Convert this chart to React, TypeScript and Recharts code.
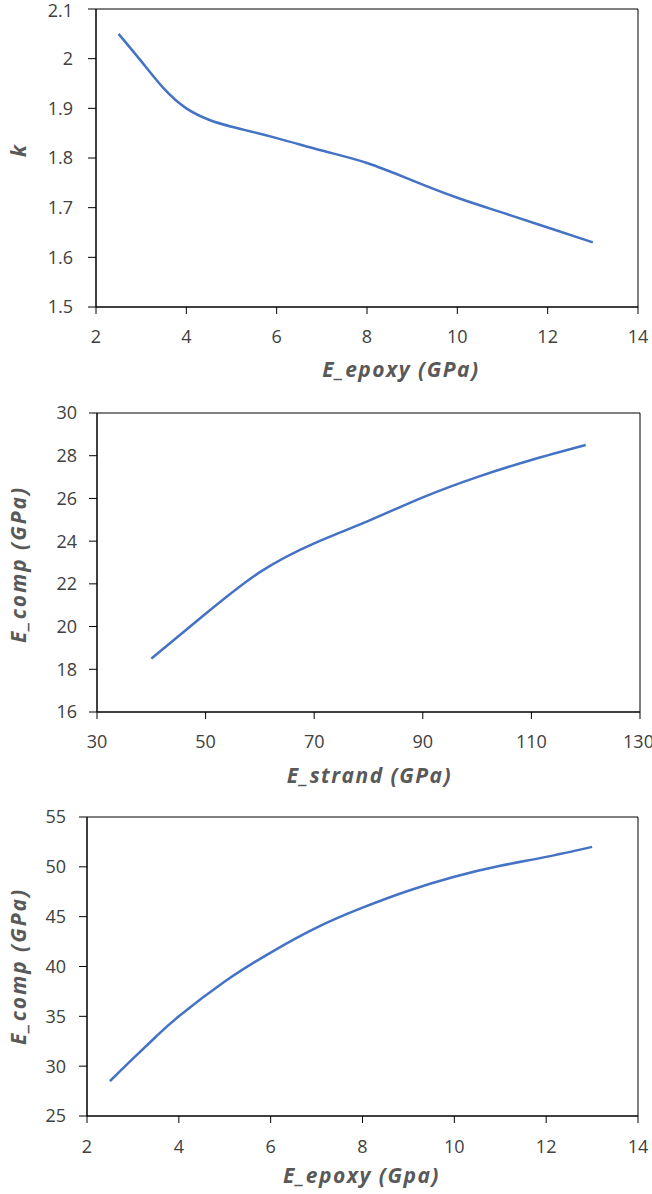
import { LineChart, Line, XAxis, YAxis, ReferenceArea } from 'recharts'

// k vs E_epoxy
const epoxyK = [2.5, 3, 3.5, 4, 4.5, 5, 6, 7, 8, 9, 10, 11, 12, 13]
const kValues = [2.05, 1.995, 1.94, 1.9, 1.877, 1.863, 1.84, 1.815, 1.79, 1.755, 1.72, 1.69, 1.66, 1.63]

// E_comp vs E_strand
const strandValues = [40, 50, 60, 70, 80, 90, 100, 110, 120]
const compByStrand = [18.5, 20.6, 22.55, 23.9, 24.95, 26.05, 27.0, 27.8, 28.5]

// E_comp vs E_epoxy
const epoxyComp = [2.5, 3, 3.5, 4, 5, 6, 7, 8, 9, 10, 11, 12, 13]
const compByEpoxy = [28.5, 30.75, 32.95, 35.0, 38.5, 41.4, 43.9, 45.9, 47.6, 49.0, 50.1, 51.0, 52.0]

const ticksEpoxy = [2, 4, 6, 8, 10, 12, 14]
const ticksK = [1.5, 1.6, 1.7, 1.8, 1.9, 2, 2.1]
const ticksStrand = [30, 50, 70, 90, 110, 130]
const ticksCompA = [16, 18, 20, 22, 24, 26, 28, 30]
const ticksCompB = [25, 30, 35, 40, 45, 50, 55]

const FONT = '"Open Sans", sans-serif'
const LINE_COLOR = '#4472C4'
const TICK_COLOR = '#404040'
const TITLE_COLOR = '#595959'

const titleStyle = {
  fill: TITLE_COLOR,
  fontSize: 21,
  fontWeight: 700,
  fontStyle: 'italic',
  fontFamily: FONT,
}

interface PanelProps {
  xs: number[]
  ys: number[]
  xTicks: number[]
  yTicks: number[]
  xTitle: string
  yTitle: string
  height: number
  top: number
  right: number
  yAxisWidth: number
  xAxisHeight: number
  xTitleY: number
  xTitleShift: number
  yTitleShift: number
  yTickMargin: number
  xTickMargin: number
}

function Panel(p: PanelProps) {
  const data = p.xs.map((x, i) => ({ x, y: p.ys[i] }))
  const xDomain = [p.xTicks[0], p.xTicks[p.xTicks.length - 1]]
  const yDomain = [p.yTicks[0], p.yTicks[p.yTicks.length - 1]]
  const tick = { fill: TICK_COLOR, fontSize: 18, fontFamily: FONT }

  const xTitle = ({ viewBox }: any) => {
    const cx = viewBox.x + viewBox.width / 2 + p.xTitleShift
    return (
      <text x={cx} y={viewBox.y + p.xTitleY} textAnchor="middle" letterSpacing={1.5} style={titleStyle}>
        {p.xTitle}
      </text>
    )
  }

  const yTitle = ({ viewBox }: any) => {
    const cx = 18
    const cy = viewBox.y + viewBox.height / 2 + p.yTitleShift
    return (
      <text
        x={cx}
        y={cy}
        textAnchor="middle"
        dominantBaseline="central"
        letterSpacing={2}
        transform={`rotate(-90, ${cx}, ${cy})`}
        style={titleStyle}
      >
        {p.yTitle}
      </text>
    )
  }

  return (
    <LineChart
      width={652}
      height={p.height}
      data={data}
      margin={{ top: p.top, right: p.right, left: 0, bottom: 0 }}
    >
      <XAxis
        dataKey="x"
        type="number"
        domain={xDomain}
        ticks={p.xTicks}
        tick={tick}
        tickSize={7}
        tickMargin={p.xTickMargin}
        height={p.xAxisHeight}
        stroke="#000"
        label={{ content: xTitle }}
      />
      <YAxis
        type="number"
        domain={yDomain}
        ticks={p.yTicks}
        tick={tick}
        tickSize={8}
        tickMargin={p.yTickMargin}
        width={p.yAxisWidth}
        stroke="#000"
        label={{ content: yTitle }}
      />
      <ReferenceArea x1={xDomain[0]} x2={xDomain[1]} y1={yDomain[0]} y2={yDomain[1]} fill="none" stroke="#000" strokeWidth={1} fillOpacity={0} />
      <Line
        dataKey="y"
        type="natural"
        stroke={LINE_COLOR}
        strokeWidth={2.5}
        dot={false}
        isAnimationActive={false}
      />
    </LineChart>
  )
}

export default function App() {
  return (
    <div style={{ position: 'absolute', left: 0, top: 0, width: 652, background: '#fff' }}>
      <Panel
        xs={epoxyK}
        ys={kValues}
        xTicks={ticksEpoxy}
        yTicks={ticksK}
        xTitle="E_epoxy (GPa)"
        yTitle="k"
        height={400}
        top={9}
        right={14}
        yAxisWidth={96}
        xAxisHeight={93}
        xTitleY={70}
        xTitleShift={34}
        yTitleShift={-8}
        yTickMargin={15}
        xTickMargin={16}
      />
      <Panel
        xs={strandValues}
        ys={compByStrand}
        xTicks={ticksStrand}
        yTicks={ticksCompA}
        xTitle="E_strand (GPa)"
        yTitle="E_comp (GPa)"
        height={400}
        top={13}
        right={12}
        yAxisWidth={97}
        xAxisHeight={88}
        xTitleY={71}
        xTitleShift={1}
        yTitleShift={2}
        yTickMargin={12}
        xTickMargin={16}
      />
      <Panel
        xs={epoxyComp}
        ys={compByEpoxy}
        xTicks={ticksEpoxy}
        yTicks={ticksCompB}
        xTitle="E_epoxy (Gpa)"
        yTitle="E_comp (GPa)"
        height={394}
        top={17}
        right={14}
        yAxisWidth={87}
        xAxisHeight={78}
        xTitleY={67}
        xTitleShift={-1}
        yTitleShift={0}
        yTickMargin={13}
        xTickMargin={17}
      />
    </div>
  )
}
